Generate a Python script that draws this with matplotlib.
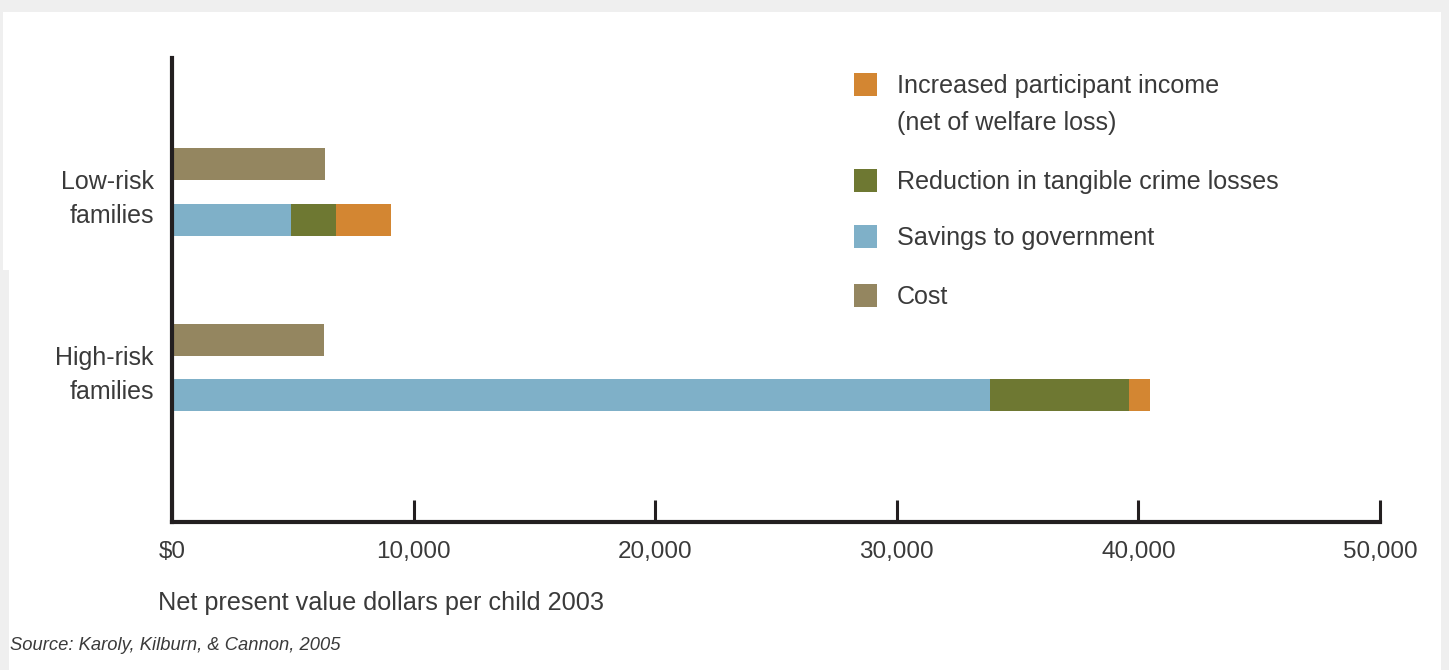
import matplotlib.pyplot as plt
from matplotlib.patches import Rectangle
import numpy as np

# data (net present value dollars per child, 2003)
groups = ['Low-risk\nfamilies', 'High-risk\nfamilies']
cost = [6340, 6300]
savings = [4940, 33870]
crime = [1850, 5760]
income = [2280, 870]

legend_labels = ['Increased participant income\n(net of welfare loss)',
                 'Reduction in tangible crime losses',
                 'Savings to government',
                 'Cost']
xticks = [0, 10000, 20000, 30000, 40000, 50000]
xtick_labels = ['$0', '10,000', '20,000', '30,000', '40,000', '50,000']

c_cost = '#948660'
c_sav = '#7fb0c8'
c_crime = '#6e7832'
c_inc = '#d38632'
txt = '#3a3a3a'
W, H = 1449, 670

plt.rcParams['font.family'] = ['Liberation Sans', 'DejaVu Sans']

fig = plt.figure(figsize=(W / 100, H / 100), dpi=100)
fig.patch.set_facecolor('#efefef')
# white card
fig.add_artist(Rectangle((3 / W, 0), 1438 / W, 1 - 12 / H, transform=fig.transFigure,
                         facecolor='white', edgecolor='none', zorder=0))
fig.add_artist(Rectangle((0, 0), 9 / W, 1 - 270 / H, transform=fig.transFigure,
                         facecolor='#efefef', edgecolor='none', zorder=0))

ax = fig.add_axes([172 / W, (H - 522) / H, (1380 - 172) / W, (522 - 58) / H])
ax.set_facecolor('none')

y = np.arange(len(groups))[::-1]  # low-risk on top
off = 0.159
h = 0.182
sav = np.array(savings)
cr = np.array(crime)
ax.barh(y + off, cost, height=h, color=c_cost)
ax.barh(y - off, sav, height=h, color=c_sav)
ax.barh(y - off, cr, left=sav, height=h, color=c_crime)
ax.barh(y - off, income, left=sav + cr, height=h, color=c_inc)

ax.set_xlim(0, 50000)
ax.set_ylim(-0.878, 1.759)
ax.set_xticks(xticks, xtick_labels)
ax.set_yticks(y, groups)

for s in ['top', 'right']:
    ax.spines[s].set_visible(False)
for s in ['left', 'bottom']:
    ax.spines[s].set_linewidth(3)
    ax.spines[s].set_color('#231f20')

ax.tick_params(axis='x', direction='in', length=16, width=2.2, color='#231f20',
               labelsize=17.5, labelcolor=txt, pad=14)
ax.tick_params(axis='y', length=0, labelsize=18, labelcolor=txt, pad=13)
for lbl in ax.get_yticklabels():
    lbl.set_multialignment('right')
    lbl.set_linespacing(1.5)

# legend drawn by hand
legend_colors = [c_inc, c_crime, c_sav, c_cost]
sq_top = [73, 169, 225, 284]
for lab, col, t in zip(legend_labels, legend_colors, sq_top):
    fig.add_artist(Rectangle((854 / W, 1 - (t + 23) / H), 23 / W, 23 / H,
                             transform=fig.transFigure, facecolor=col, edgecolor='none'))
    for i, line in enumerate(lab.split('\n')):
        fig.text(897 / W, 1 - (t + 20 + 37 * i) / H, line, fontsize=18.1, color=txt,
                 va='baseline', ha='left')

fig.text(158 / W, 1 - 603 / H, 'Net present value dollars per child 2003',
         fontsize=18.2, color=txt, va='center', ha='left')
fig.text(10 / W, 1 - 646 / H, 'Source: Karoly, Kilburn, & Cannon, 2005',
         fontsize=13.2, color=txt, style='italic', va='center', ha='left')

plt.savefig('out.png', dpi=100, facecolor=fig.get_facecolor())
